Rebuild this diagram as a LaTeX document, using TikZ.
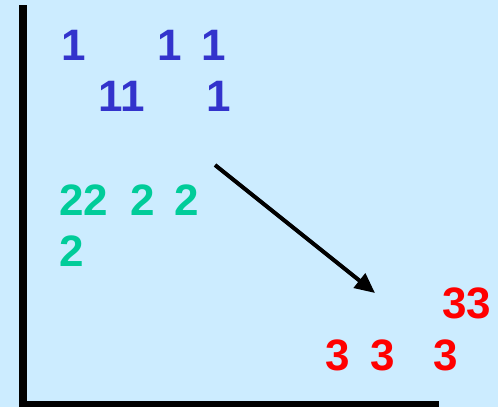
\documentclass[tikz,border=0pt]{standalone}
\usepackage{fontspec}
\setmainfont{Liberation Sans}
\usetikzlibrary{arrows.meta}
\definecolor{bgblue}{RGB}{204,236,255}
\definecolor{oneblue}{RGB}{51,51,204}
\definecolor{twogreen}{RGB}{0,204,153}
\definecolor{threered}{RGB}{255,0,0}
\tikzset{
  digit/.style={anchor=base west, inner sep=0pt, outer sep=0pt, font=\fontsize{44}{44}\selectfont\bfseries},
  ones/.style={digit, text=oneblue},
  twos/.style={digit, text=twogreen},
  threes/.style={digit, text=threered},
  axis/.style={draw=black, line cap=butt},
  move/.style={draw=black, line width=4pt, -{Triangle[length=20pt,width=18pt]}}
}
\begin{document}
\begin{tikzpicture}[x=1pt,y=-1pt]
\fill[bgblue] (0,0) rectangle (498,407);
\useasboundingbox (0,0) rectangle (498,407);
% axes
\draw[axis, line width=8pt] (23,5) -- (23,405);
\draw[axis, line width=6pt] (19,404) -- (439,404);
% ones
\node[ones] (a1) at (61,60) {1};
\node[ones] (a2) at (157,60) {1};
\node[ones] (a3) at (201,60) {1};
\node[ones] (a4) at (98,111) {11};
\node[ones] (a5) at (206,111) {1};
% twos
\node[twos] (b1) at (59,215) {22};
\node[twos] (b2) at (130,215) {2};
\node[twos] (b3) at (174,215) {2};
\node[twos] (b4) at (59,266) {2};
% threes
\node[threes] (c1) at (442,318) {33};
\node[threes] (c2) at (325,370) {3};
\node[threes] (c3) at (370,370) {3};
\node[threes] (c4) at (433,370) {3};
% arrow
\coordinate (s) at (215,165);
\coordinate (e) at (375,293);
\draw[move] (s) -- (e);
\end{tikzpicture}
\end{document}
